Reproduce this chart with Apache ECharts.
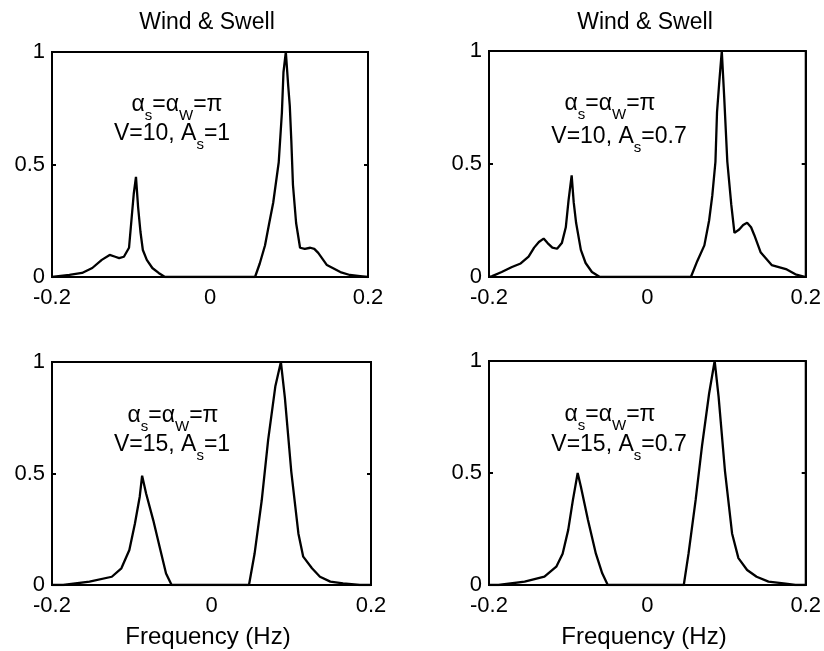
<!DOCTYPE html>
<html>
<head>
<meta charset="utf-8">
<script src="https://cdn.jsdelivr.net/npm/echarts@6/dist/echarts.min.js"></script>
<style>
  html, body { margin: 0; padding: 0; background: #fff; }
  #ch { width: 824px; height: 651px; }
</style>
</head>
<body>
<div id="ch"></div>
<script>
// spectrum values (frequency in Hz, normalised level)
var freqTL = [-0.2, -0.178, -0.162, -0.149, -0.137, -0.127, -0.12, -0.115, -0.109, -0.1025, -0.099, -0.0965, -0.0937, -0.091, -0.088, -0.085, -0.08, -0.073, -0.065, -0.057,
              0.057, 0.063, 0.0696, 0.075, 0.08, 0.087, 0.091, 0.093, 0.096, 0.099, 0.101, 0.103, 0.105, 0.109, 0.114, 0.12, 0.127, 0.132, 0.137, 0.148, 0.165, 0.177, 0.19, 0.2];
var valTL  = [0, 0.009, 0.018, 0.04, 0.076, 0.098, 0.09, 0.084, 0.09, 0.13, 0.27, 0.37, 0.445, 0.31, 0.2, 0.12, 0.076, 0.04, 0.018, 0,
              0, 0.06, 0.14, 0.24, 0.33, 0.51, 0.73, 0.91, 1.0, 0.85, 0.76, 0.6, 0.41, 0.24, 0.13, 0.125, 0.13, 0.125, 0.107, 0.053, 0.022, 0.009, 0.004, 0];

var freqTR = [-0.2, -0.196, -0.184, -0.171, -0.16, -0.15, -0.143, -0.137, -0.131, -0.126, -0.12, -0.114, -0.108, -0.103, -0.0995, -0.0956, -0.093, -0.09, -0.084, -0.078, -0.07, -0.06,
              0.055, 0.063, 0.072, 0.078, 0.082, 0.086, 0.088, 0.091, 0.094, 0.097, 0.101, 0.106, 0.11, 0.116, 0.121, 0.126, 0.131, 0.135, 0.143, 0.157, 0.175, 0.187, 0.2];
var valTR  = [0, 0.004, 0.022, 0.044, 0.06, 0.09, 0.13, 0.155, 0.17, 0.15, 0.13, 0.125, 0.15, 0.22, 0.34, 0.45, 0.33, 0.24, 0.12, 0.062, 0.022, 0,
              0, 0.07, 0.14, 0.25, 0.36, 0.51, 0.73, 0.87, 1.0, 0.8, 0.51, 0.32, 0.195, 0.21, 0.23, 0.24, 0.22, 0.186, 0.11, 0.053, 0.035, 0.012, 0];

var freqBL = [-0.2, -0.186, -0.153, -0.125, -0.113, -0.103, -0.096, -0.09, -0.087, -0.082, -0.073, -0.065, -0.057, -0.05,
              0.047, 0.054, 0.063, 0.071, 0.08, 0.087, 0.092, 0.1, 0.109, 0.115, 0.126, 0.136, 0.149, 0.165, 0.186, 0.2];
var valBL  = [0, 0, 0.015, 0.037, 0.075, 0.157, 0.276, 0.396, 0.49, 0.41, 0.29, 0.17, 0.052, 0,
              0, 0.14, 0.38, 0.65, 0.89, 1.0, 0.84, 0.51, 0.23, 0.127, 0.075, 0.037, 0.015, 0.007, 0, 0];

var freqBR = [-0.2, -0.188, -0.155, -0.13, -0.115, -0.107, -0.1, -0.094, -0.088, -0.084, -0.075, -0.065, -0.057, -0.05,
              0.046, 0.052, 0.061, 0.069, 0.078, 0.085, 0.09, 0.098, 0.107, 0.115, 0.126, 0.138, 0.153, 0.172, 0.187, 0.2];
var valBR  = [0, 0, 0.015, 0.037, 0.082, 0.14, 0.245, 0.38, 0.5, 0.44, 0.29, 0.14, 0.052, 0,
              0, 0.14, 0.38, 0.62, 0.855, 1.0, 0.84, 0.51, 0.23, 0.12, 0.067, 0.037, 0.015, 0.007, 0, 0];

var xTicks = [-0.2, 0.2];   // min, max
var yTicks = [0, 1];
var caseLines = ['{a|V=10, A}{s|s}{a|=1}', '{a|V=10, A}{s|s}{a|=0.7}', '{a|V=15, A}{s|s}{a|=1}', '{a|V=15, A}{s|s}{a|=0.7}'];

var font = '"Liberation Sans", Arial, sans-serif';

var chart = echarts.init(document.getElementById('ch'));

var grids = [
    {left: 52, top: 52, width: 316, height: 225},
    {left: 489, top: 51, width: 318, height: 226},
    {left: 52, top: 362, width: 319, height: 223},
    {left: 489, top: 361, width: 319, height: 224}
];
var panels = [[freqTL, valTL], [freqTR, valTR], [freqBL, valBL], [freqBR, valBR]];

function pairs(xs, ys) {
    var res = [];
    for (var i = 0; i < xs.length; i++) res.push([xs[i], ys[i]]);
    return res;
}

var xAxes = [], yAxes = [], series = [];
grids.forEach(function (g, i) {
    g.show = true;
    g.borderColor = '#000';
    g.borderWidth = 2;
    g.backgroundColor = 'transparent';
    xAxes.push({
        type: 'value', gridIndex: i, min: xTicks[0], max: xTicks[1], interval: 0.2,
        axisLine: {onZero: false, lineStyle: {color: '#000', width: 2}},
        axisTick: {show: false},
        splitLine: {show: false},
        axisLabel: {color: '#000', fontSize: 22, fontFamily: font, margin: 10}
    });
    series.push({
        type: 'line', xAxisIndex: i, yAxisIndex: i,
        data: pairs(panels[i][0], panels[i][1]),
        showSymbol: false,
        lineStyle: {color: '#000', width: 2.3},
        animation: false
    });
});
grids.forEach(function (g, i) {
    yAxes.push({
        type: 'value', gridIndex: i, min: yTicks[0], max: yTicks[1], interval: 0.5,
        axisLine: {onZero: false, lineStyle: {color: '#000', width: 2}},
        axisTick: {inside: true, length: 4, lineStyle: {color: '#000', width: 2}},
        splitLine: {show: false},
        axisLabel: {color: '#000', fontSize: 22, fontFamily: font, margin: 7}
    });
});
grids.forEach(function (g, i) {
    yAxes.push({
        type: 'value', gridIndex: i, position: 'right', min: yTicks[0], max: yTicks[1], interval: 0.5,
        axisLine: {onZero: false, lineStyle: {color: '#000', width: 2}},
        axisTick: {inside: true, length: 4, lineStyle: {color: '#000', width: 2}},
        splitLine: {show: false},
        axisLabel: {show: false}
    });
});

var rich = {
    a: {fontSize: 23, fontFamily: font, color: '#000', lineHeight: 30, verticalAlign: 'top'},
    s: {fontSize: 15, fontFamily: font, color: '#000', lineHeight: 16, verticalAlign: 'bottom'}
};
function txt(x, y, s, size) {
    return {type: 'text', x: x, y: y, style: {text: s, fill: '#000', font: size + 'px ' + font,
        textAlign: 'center', textVerticalAlign: 'middle'}};
}
function richTxt(x, y, s) {
    return {type: 'text', x: x, y: y, style: {text: s, rich: rich, fill: '#000',
        textAlign: 'center', textVerticalAlign: 'middle'}};
}

var alphaLine = '{a|\u03b1}{s|s}{a|=\u03b1}{s|W}{a|=\u03c0}';
var graphics = [
    txt(207, 23, 'Wind & Swell', 23),
    txt(645, 23, 'Wind & Swell', 23),
    txt(208, 637, 'Frequency (Hz)', 24),
    txt(644, 637, 'Frequency (Hz)', 24),
    richTxt(177, 108, alphaLine),
    richTxt(172, 137, caseLines[0]),
    richTxt(610, 107, alphaLine),
    richTxt(619, 140, caseLines[1]),
    richTxt(173, 419, alphaLine),
    richTxt(172, 448, caseLines[2]),
    richTxt(610, 418, alphaLine),
    richTxt(619, 448, caseLines[3])
];

var option = {
    backgroundColor: '#fff',
    animation: false,
    grid: grids,
    xAxis: xAxes,
    yAxis: yAxes,
    series: series,
    graphic: graphics
};
chart.setOption(option);
</script>
</body>
</html>
